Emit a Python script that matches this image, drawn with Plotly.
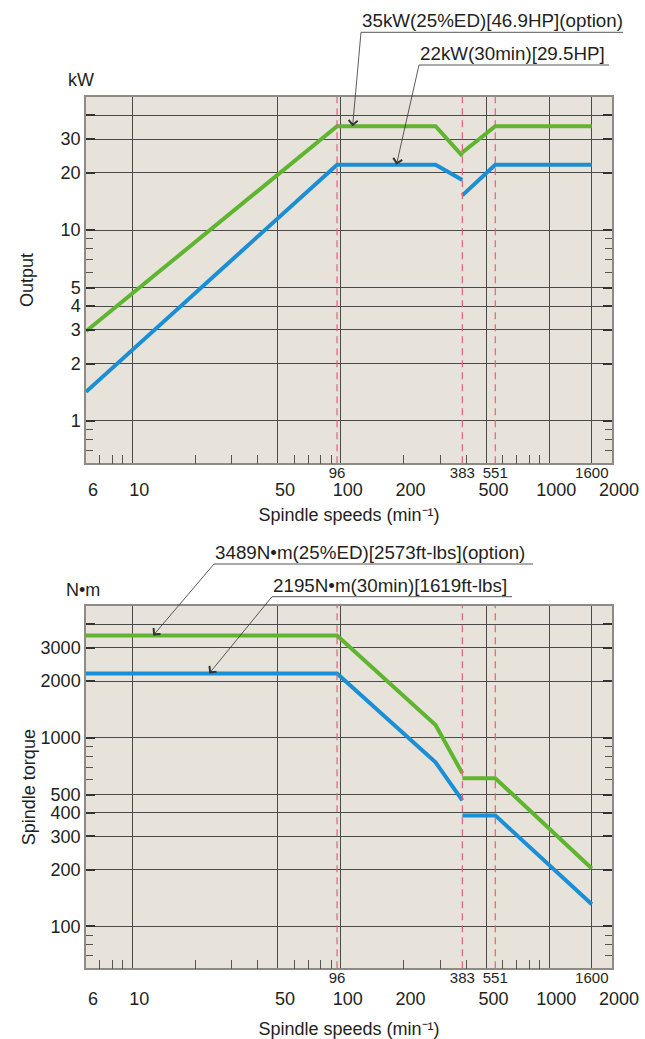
import math
import plotly.graph_objects as go

# ---------------- data ----------------
speeds_seg1 = [6, 96, 285, 383]
speeds_seg2 = [383, 551, 1600]

output_option_seg1 = [2.95, 35, 35, 24.5]
output_option_seg2 = [25.5, 35, 35]
output_30min_seg1 = [1.42, 22, 22, 18.3]
output_30min_seg2 = [15.2, 22, 22]

torque_option_seg1 = [3489, 3489, 1169, 649]
torque_option_seg2 = [611, 611, 203]
torque_30min_seg1 = [2195, 2195, 741, 466]
torque_30min_seg2 = [388, 388, 131]

speed_change_points = [96, 383, 551]
marked_speeds = [96, 383, 551, 1600]
marked_labels = ["96", "383", "551", "1600"]
grid_speeds = [10, 50, 100, 500, 1000, 1600]
minor_speeds = [7, 8, 9, 20, 30, 40, 60, 70, 80, 90, 200, 300, 400, 600, 700, 800, 900]
labeled_speeds = [6, 10, 50, 100, 200, 500, 1000, 2000]
labeled_speed_text = ["6", "10", "50", "100", "200", "500", "1000", "2000"]

output_ticks = [1, 2, 3, 4, 5, 10, 20, 30]
output_unlabeled_grid = [40]
output_minor = [0.7, 0.8, 0.9, 6, 7, 8, 9]
torque_ticks = [100, 200, 300, 400, 500, 1000, 2000, 3000]
torque_unlabeled_grid = [4000]
torque_minor = [70, 80, 90, 600, 700, 800, 900]

speed_range = [6, 2000]
output_range = [0.6, 50]
torque_range = [60, 5000]

# label texts and their leader-arrow targets (speed, value)
output_labels = ["35kW(25%ED)[46.9HP](option)", "22kW(30min)[29.5HP]"]
output_label_targets = [(114, 35), (185, 22)]
torque_labels = ["3489N•m(25%ED)[2573ft-lbs](option)", "2195N•m(30min)[1619ft-lbs]"]
torque_label_targets = [(12.6, 3489), (23.4, 2195)]

# ---------------- style ----------------
GREEN = "#5FB530"
BLUE = "#1A8FD5"
RED = "#E2607A"
BG = "#E7E3DA"
GRID = "#4A4A4A"
FRAME = "#8E8B86"
TXT = "#231F20"
FONT = "Liberation Sans, Arial, sans-serif"

W, H = 645, 1039
ML, MR = 86, 33
PW = W - ML - MR


def px(x):
    return (x - ML) / PW


def py(y):
    return 1 - y / H


fig = go.Figure()


def add_chart(xa, xa_mark, xa_label, ya, ya_extra, seg_green, seg_blue, rng):
    xs, ys = [], []
    for s in speed_change_points:
        xs += [s, s, None]
        ys += [rng[0], rng[1], None]
    fig.add_trace(go.Scatter(x=xs, y=ys, xaxis=xa_mark, yaxis=ya, mode="lines",
                             line=dict(color=RED, width=1.2, dash="7px,5px"),
                             hoverinfo="skip"))
    # invisible anchor traces so the overlay axes are drawn
    fig.add_trace(go.Scatter(x=[speed_range[0]], y=[rng[0]], xaxis=xa_label, yaxis=ya,
                             mode="markers", marker=dict(opacity=0, size=1),
                             hoverinfo="skip"))
    fig.add_trace(go.Scatter(x=[speed_range[0]], y=[rng[0]], xaxis=xa, yaxis=ya_extra,
                             mode="markers", marker=dict(opacity=0, size=1),
                             hoverinfo="skip"))
    for (sx, sy), col in [(seg_blue[0], BLUE), (seg_blue[1], BLUE),
                          (seg_green[0], GREEN), (seg_green[1], GREEN)]:
        fig.add_trace(go.Scatter(x=sx, y=sy, xaxis=xa, yaxis=ya, mode="lines",
                                 line=dict(color=col, width=4)))


add_chart("x", "x2", "x3", "y", "y3",
          [(speeds_seg1, output_option_seg1), (speeds_seg2, output_option_seg2)],
          [(speeds_seg1, output_30min_seg1), (speeds_seg2, output_30min_seg2)],
          output_range)
add_chart("x4", "x5", "x6", "y2", "y4",
          [(speeds_seg1, torque_option_seg1), (speeds_seg2, torque_option_seg2)],
          [(speeds_seg1, torque_30min_seg1), (speeds_seg2, torque_30min_seg2)],
          torque_range)

lrange = [math.log10(v) for v in speed_range]


def base_x(anchor):
    return dict(anchor=anchor, type="log", range=lrange, tickmode="array",
                tickvals=grid_speeds, showticklabels=False, ticks="",
                showgrid=True, gridcolor=GRID, gridwidth=1,
                minor=dict(tickmode="array", tickvals=minor_speeds, ticks="inside",
                           ticklen=9, tickcolor="#555", tickwidth=1, showgrid=False),
                showline=True, linecolor=FRAME, linewidth=1.5, mirror=True,
                zeroline=False)


def mark_x(over, anchor):
    return dict(overlaying=over, anchor=anchor, side="bottom", type="log", range=lrange,
                tickmode="array", tickvals=marked_speeds, ticktext=marked_labels,
                tickfont=dict(size=15, color=TXT), ticks="", showgrid=False,
                showline=False, zeroline=False, ticklabelstandoff=-1)


def label_x(over, anchor, lab_standoff, title_standoff):
    return dict(overlaying=over, anchor=anchor, side="bottom", type="log", range=lrange,
                tickmode="array", tickvals=labeled_speeds, ticktext=labeled_speed_text,
                tickfont=dict(size=18, color=TXT), ticks="", showgrid=False,
                showline=False, zeroline=False, ticklabelstandoff=lab_standoff,
                ticklabelshift=7,
                title=dict(text="Spindle speeds (min⁻¹)",
                           font=dict(size=18, color=TXT), standoff=title_standoff))


def base_y(anchor, domain, rng, tv, mv, title, standoff):
    return dict(anchor=anchor, domain=domain, type="log",
                range=[math.log10(v) for v in rng], tickmode="array",
                tickvals=tv, ticktext=[str(v) for v in tv],
                tickfont=dict(size=18, color=TXT),
                ticks="inside", ticklen=9, tickwidth=1.5, tickcolor="#333",
                showgrid=True, gridcolor=GRID, gridwidth=1,
                minor=dict(tickmode="array", tickvals=mv, ticks="inside", ticklen=7,
                           tickcolor="#555", tickwidth=1, showgrid=False),
                showline=True, linecolor=FRAME, linewidth=1.5, mirror="ticks",
                zeroline=False, ticklabelstandoff=0,
                title=dict(text=title, font=dict(size=18, color=TXT), standoff=standoff))


def extra_y(over, anchor, rng, tv):
    return dict(overlaying=over, anchor=anchor, type="log",
                range=[math.log10(v) for v in rng], tickmode="array", tickvals=tv,
                showticklabels=False, ticks="inside", ticklen=9, tickwidth=1.5,
                tickcolor="#333", showgrid=True, gridcolor=GRID, gridwidth=1,
                showline=False, mirror="ticks", zeroline=False)


top_dom = [py(463.3), py(96.7)]
bot_dom = [py(968.3), py(606)]

fig.update_layout(
    width=W, height=H,
    margin=dict(l=ML, r=MR, t=0, b=0),
    paper_bgcolor="white", plot_bgcolor=BG,
    showlegend=False,
    font=dict(family=FONT, size=18, color=TXT),
    xaxis=base_x("y"),
    xaxis2=mark_x("x", "y"),
    xaxis3=label_x("x", "y", 14, 9),
    xaxis4=base_x("y2"),
    xaxis5=mark_x("x4", "y2"),
    xaxis6=label_x("x4", "y2", 18, 14),
    yaxis=base_y("x", top_dom, output_range, output_ticks, output_minor, "Output", 22),
    yaxis2=base_y("x4", bot_dom, torque_range, torque_ticks, torque_minor,
                  "Spindle torque", 0),
    yaxis3=extra_y("y", "x", output_range, output_unlabeled_grid),
    yaxis4=extra_y("y2", "x4", torque_range, torque_unlabeled_grid),
)

annotations = []
shapes = []

# unit labels
annotations.append(dict(text="kW", xref="paper", yref="paper", x=px(66), y=py(80),
                        xanchor="left", yanchor="middle", showarrow=False,
                        font=dict(size=18, color=TXT)))
annotations.append(dict(text="N•m", xref="paper", yref="paper", x=px(64), y=py(590),
                        xanchor="left", yanchor="middle", showarrow=False,
                        font=dict(size=18, color=TXT)))

# (text, target, xref, yref, underline x0, underline x1, underline y) in pixels
callouts = [
    (output_labels[0], output_label_targets[0], "x", "y", 361, 623, 32.3),
    (output_labels[1], output_label_targets[1], "x", "y", 419, 609, 65.0),
    (torque_labels[0], torque_label_targets[0], "x4", "y2", 214, 533, 564.0),
    (torque_labels[1], torque_label_targets[1], "x4", "y2", 272, 512, 596.7),
]

xl0, xl1 = lrange


def speed_to_px(s):
    return ML + (math.log10(s) - xl0) / (xl1 - xl0) * PW


def val_to_py(v, rng, top, bottom):
    l0, l1 = math.log10(rng[0]), math.log10(rng[1])
    return bottom - (math.log10(v) - l0) / (l1 - l0) * (bottom - top)


for text, (ts, tv), xr, yr, u0, u1, uy in callouts:
    shapes.append(dict(type="line", xref="paper", yref="paper", x0=px(u0), x1=px(u1),
                       y0=py(uy), y1=py(uy), line=dict(color="#555", width=1)))
    if yr == "y":
        tip_y = val_to_py(tv, output_range, 96.7, 463.3)
    else:
        tip_y = val_to_py(tv, torque_range, 606, 968.3)
    tip_x = speed_to_px(ts)
    annotations.append(dict(text=text, xref=xr, yref=yr, x=math.log10(ts), y=math.log10(tv),
                            xanchor="left", yanchor="bottom", borderpad=0,
                            font=dict(size=18.8, color=TXT),
                            showarrow=True, arrowhead=4, arrowsize=2.2, arrowwidth=0.8,
                            arrowcolor="#333", axref="pixel", ayref="pixel",
                            ax=u0 - tip_x, ay=uy - tip_y, standoff=0))

fig.update_layout(annotations=annotations, shapes=shapes)

fig.write_html("out.html", config={"displayModeBar": False},
               post_script="document.body.style.margin='0px';document.body.style.overflow='hidden';")
